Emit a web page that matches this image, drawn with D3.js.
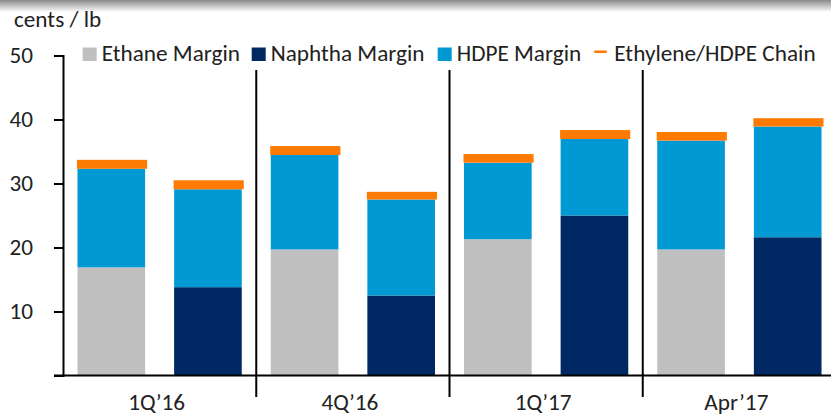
<!DOCTYPE html>
<html>
<head>
<meta charset="utf-8">
<script src="https://cdn.jsdelivr.net/npm/d3@7"></script>
<style>
  html, body { margin: 0; padding: 0; background: #fff; }
  svg { display: block; }
  text { font-family: Carlito, Calibri, Lato, "Liberation Sans Narrow", sans-serif; fill: #222; }
</style>
</head>
<body>
<svg id="chart" width="831" height="416"></svg>
<script>
// ---- data ----
const categories = ["1Q\u201916", "4Q\u201916", "1Q\u201917", "Apr\u201917"];
const ethaneMargin = [16.9, 19.7, 21.3, 19.7];
const naphthaMargin = [13.8, 12.5, 25.0, 21.6];
const hdpeOnEthane = [15.4, 14.75, 11.95, 17.0];
const hdpeOnNaphtha = [15.3, 15.0, 11.95, 17.3];
const chainOnEthane = [1.4, 1.4, 1.35, 1.35];
const chainOnNaphtha = [1.4, 1.2, 1.4, 1.3];
const yTicks = [0, 10, 20, 30, 40, 50];
const seriesNames = ["Ethane Margin", "Naphtha Margin", "HDPE Margin", "Ethylene/HDPE Chain"];
const colors = { ethane: "#BFBFBF", naphtha: "#002863", hdpe: "#0099D3", chain: "#FF7A00" };

(function () {
const bars = [];
categories.forEach((c, i) => {
  bars.push({ key: c + "|E", cat: c, feed: "ethane", base: ethaneMargin[i], hdpe: hdpeOnEthane[i], chain: chainOnEthane[i] });
  bars.push({ key: c + "|N", cat: c, feed: "naphtha", base: naphthaMargin[i], hdpe: hdpeOnNaphtha[i], chain: chainOnNaphtha[i] });
});

const svg = d3.select("#chart");
const W = 831;
const mLeft = 63, mRight = 836, mTop = 55.5, mBottom = 375.5;
const FS = 21.5, STRETCH = 1.08;
function widen(sel) {
  sel.each(function () {
    const len = this.getComputedTextLength();
    if (len > 0) d3.select(this).attr("textLength", len * STRETCH).attr("lengthAdjust", "spacingAndGlyphs");
  });
}

// top shadow
const defs = svg.append("defs");
const grad = defs.append("linearGradient").attr("id", "shadow").attr("x1", 0).attr("y1", 0).attr("x2", 0).attr("y2", 1);
grad.append("stop").attr("offset", "0%").attr("stop-color", "#8a8a8a");
grad.append("stop").attr("offset", "45%").attr("stop-color", "#bdbdbd");
grad.append("stop").attr("offset", "100%").attr("stop-color", "#ffffff");
svg.append("rect").attr("x", 0).attr("y", 0).attr("width", W).attr("height", 12).attr("fill", "url(#shadow)");

// scales
const xGroup = d3.scaleBand().domain(categories).range([mLeft, mRight]).padding(0);
const x = d3.scaleBand().domain(bars.map(d => d.key)).range([mLeft, mRight]).paddingInner(0.3).paddingOuter(0.15);
const y = d3.scaleLinear().domain([0, 50]).range([mBottom, mTop]);

// bars
const g = svg.append("g");
const bw = x.bandwidth();
g.selectAll("rect.base").data(bars).join("rect").attr("class", "base")
  .attr("x", d => x(d.key)).attr("width", bw)
  .attr("y", d => y(d.base)).attr("height", d => y(0) - y(d.base))
  .attr("fill", d => colors[d.feed]);
g.selectAll("rect.hdpe").data(bars).join("rect").attr("class", "hdpe")
  .attr("x", d => x(d.key)).attr("width", bw)
  .attr("y", d => y(d.base + d.hdpe)).attr("height", d => y(d.base) - y(d.base + d.hdpe))
  .attr("fill", colors.hdpe);
g.selectAll("rect.chain").data(bars).join("rect").attr("class", "chain")
  .attr("x", d => x(d.key) - 0.5).attr("width", bw + 2.5)
  .attr("y", d => y(d.base + d.hdpe + d.chain)).attr("height", d => y(d.base + d.hdpe) - y(d.base + d.hdpe + d.chain))
  .attr("fill", colors.chain);

// y axis
const yAxis = d3.axisLeft(y).tickValues(yTicks).tickSize(9).tickPadding(21)
  .tickFormat(d => d === 0 ? "" : d);
const ya = svg.append("g").attr("transform", `translate(${mLeft},0)`).call(yAxis);
ya.attr("font-family", null).attr("font-size", null);
ya.select(".domain").attr("stroke", "#000").attr("stroke-width", 2);
ya.selectAll(".tick line").attr("stroke", "#000").attr("stroke-width", 2);
ya.selectAll(".tick text").attr("font-size", FS).attr("fill", "#222").attr("dy", "0.34em").call(widen);

// x axis baseline
svg.append("line").attr("x1", mLeft - 9).attr("x2", W).attr("y1", y(0)).attr("y2", y(0))
  .attr("stroke", "#000").attr("stroke-width", 2);

// group separators
svg.selectAll("line.sep").data(categories.slice(1)).join("line").attr("class", "sep")
  .attr("x1", d => xGroup(d)).attr("x2", d => xGroup(d))
  .attr("y1", 70).attr("y2", 397)
  .attr("stroke", "#000").attr("stroke-width", 2);

// category labels
svg.selectAll("text.cat").data(categories).join("text").attr("class", "cat")
  .attr("x", d => xGroup(d) + xGroup.bandwidth() / 2 - 3)
  .attr("y", 410)
  .attr("text-anchor", "middle")
  .attr("font-size", FS)
  .text(d => d).call(widen);

// unit label
svg.append("text").attr("x", 14).attr("y", 27).attr("font-size", FS).text("cents / lb").call(widen);

// legend
const legendX = [82.7, 251.7, 437.7, 594.3];
const legendColors = [colors.ethane, colors.naphtha, colors.hdpe, colors.chain];
const lg = svg.append("g");
seriesNames.forEach((name, i) => {
  const item = lg.append("g");
  if (i < 3) {
    item.append("rect").attr("x", legendX[i]).attr("y", 47.5).attr("width", 14).attr("height", 13.5).attr("fill", legendColors[i]);
    item.append("text").attr("x", legendX[i] + 19).attr("y", 61).attr("font-size", FS).text(name).call(widen);
  } else {
    item.append("rect").attr("x", legendX[i]).attr("y", 50.5).attr("width", 12.5).attr("height", 2.5).attr("fill", legendColors[i]);
    item.append("text").attr("x", legendX[i] + 20).attr("y", 61).attr("font-size", FS).text(name).call(widen);
  }
});
})();
</script>
</body>
</html>
